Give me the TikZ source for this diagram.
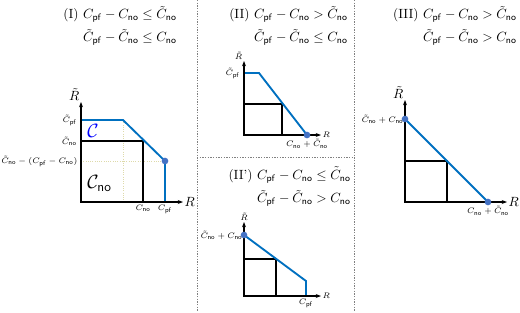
\documentclass[tikz,border=0pt]{standalone}
\usepackage{amsmath,amssymb}
\usetikzlibrary{arrows.meta,positioning}

\definecolor{lineblue}{RGB}{0,112,192}
\definecolor{dotblue}{RGB}{68,114,196}
\definecolor{guidecol}{RGB}{222,218,170}

\newcommand{\Cpf}{C_{\mathsf{pf}}}
\newcommand{\Cno}{C_{\mathsf{no}}}
\newcommand{\Ctpf}{\tilde{C}_{\mathsf{pf}}}
\newcommand{\Ctno}{\tilde{C}_{\mathsf{no}}}

\begin{document}
\begin{tikzpicture}[x=0.75pt, y=-0.75pt, >={Stealth[length=4pt,width=3pt]},
  ax/.style={->, line width=0.8pt},
  curve/.style={lineblue, line width=1.4pt},
  boxln/.style={line width=1.1pt},
  guide/.style={guidecol, densely dotted, line width=0.7pt},
  sep/.style={gray, dash pattern=on 1pt off 1pt, line width=0.5pt},
  enddot/.style={circle, fill=dotblue, inner sep=0pt, minimum size=5pt},
  lbl/.style={font=\fontsize{6.5pt}{8pt}\selectfont, inner sep=1pt},
  ttl/.style={align=right, anchor=east, inner sep=0pt}]
\useasboundingbox (0,0) rectangle (520,312);

% separators
\draw[sep] (197,0) -- (197,312);
\draw[sep] (354,0) -- (354,312);
\draw[sep] (197,157) -- (354,157);

% (I)
\node[ttl] (t1) at (177,26) {(I)~$\Cpf - \Cno \le \Ctno$\\[4.5pt] $\Ctpf - \Ctno \le \Cno$};
\coordinate (o1) at (81,202);
\coordinate (x1) at (183,202);
\coordinate (y1) at (81,102);
\coordinate (pf1) at (81,120);
\coordinate (no1) at (81,141);
\coordinate (g1) at (81,161);
\coordinate (k1) at (123,120);
\coordinate (d1) at (165,161);
\coordinate (c1) at (165,202);
\coordinate (b1) at (143,202);
\draw[guide] (k1) -- (123,202);
\draw[guide] (g1) -- (d1);
\draw[boxln] (o1) rectangle (143,141);
\draw[curve] (pf1) -- (k1) -- (d1) -- (c1);
\draw[ax] (o1) -- (x1);
\draw[ax] (o1) -- (y1);
\node[enddot] (dot1) at (d1) {};
\node[inner sep=1pt, right] (r1) at (x1) {$R$};
\node[inner sep=1pt, above left] (rt1) at (y1) {$\tilde{R}$};
\node[lbl, left=2pt of pf1] (lpf1) {$\Ctpf$};
\node[lbl, left=2pt of no1] (lno1) {$\Ctno$};
\node[lbl, left=1.5pt of g1] (lg1) {$\Ctno - (\Cpf - \Cno)$};
\node[lbl, below=1pt of b1] (lb1) {$\Cno$};
\node[lbl, below=1pt of c1] (lc1) {$\Cpf$};
\node[blue, anchor=west, inner sep=0pt] (cset) at (87,131) {\Large$\mathcal{C}$};
\node[anchor=west, inner sep=0pt] (cno) at (87,183) {\Large$\mathcal{C}_{\mathsf{no}}$};

% (II)
\node[ttl] (t2) at (348,26) {(II)~$\Cpf - \Cno > \Ctno$\\[4.5pt] $\Ctpf - \Ctno \le \Cno$};
\coordinate (o2) at (244,135);
\coordinate (x2) at (321,135);
\coordinate (y2) at (244,61);
\coordinate (pf2) at (244,73);
\coordinate (k2) at (259,73);
\coordinate (d2) at (307,135);
\draw[boxln] (o2) rectangle (282,104);
\draw[curve] (pf2) -- (k2) -- (d2);
\draw[ax] (o2) -- (x2);
\draw[ax] (o2) -- (y2);
\node[enddot] (dot2) at (d2) {};
\node[lbl, right] (r2) at (x2) {$R$};
\node[lbl, above left] (rt2) at (y2) {$\tilde{R}$};
\node[lbl, left=2pt of pf2] (lpf2) {$\Ctpf$};
\node[lbl, below=2pt of d2] (ld2) {$\Cno + \Ctno$};

% (II')
\node[ttl] (t3) at (351,186.5) {(II')~$\Cpf - \Cno \le \Ctno$\\[4.5pt] $\Ctpf - \Ctno > \Cno$};
\coordinate (o3) at (244,296);
\coordinate (x3) at (321,296);
\coordinate (y3) at (244,222);
\coordinate (top3) at (244,235);
\coordinate (k3) at (306,281);
\coordinate (c3) at (306,296);
\draw[boxln] (o3) rectangle (276,259);
\draw[curve] (top3) -- (k3) -- (c3);
\draw[ax] (o3) -- (x3);
\draw[ax] (o3) -- (y3);
\node[enddot] (dot3) at (top3) {};
\node[lbl, right] (r3) at (x3) {$R$};
\node[lbl, above] (rt3) at (y3) {$\tilde{R}$};
\node[lbl, left] (ltop3) at (top3) {$\Ctno + \Cno$};
\node[lbl, below=1pt of c3] (lc3) {$\Cpf$};

% (III)
\node[ttl] (t4) at (517,26) {(III)~$\Cpf - \Cno > \Ctno$\\[4.5pt] $\Ctpf - \Ctno > \Cno$};
\coordinate (o4) at (405,202);
\coordinate (x4) at (507,202);
\coordinate (y4) at (405,100);
\coordinate (top4) at (405,119);
\coordinate (d4) at (488,202);
\draw[boxln] (o4) rectangle (447,161);
\draw[curve] (top4) -- (d4);
\draw[ax] (o4) -- (x4);
\draw[ax] (o4) -- (y4);
\node[enddot] (dot4a) at (top4) {};
\node[enddot] (dot4b) at (d4) {};
\node[inner sep=1pt, right] (r4) at (x4) {$R$};
\node[inner sep=1pt, above left] (rt4) at (y4) {$\tilde{R}$};
\node[lbl, left] (ltop4) at (top4) {$\Ctno + \Cno$};
\node[lbl, below=2pt of d4] (ld4) {$\Cno + \Ctno$};
\end{tikzpicture}
\end{document}
